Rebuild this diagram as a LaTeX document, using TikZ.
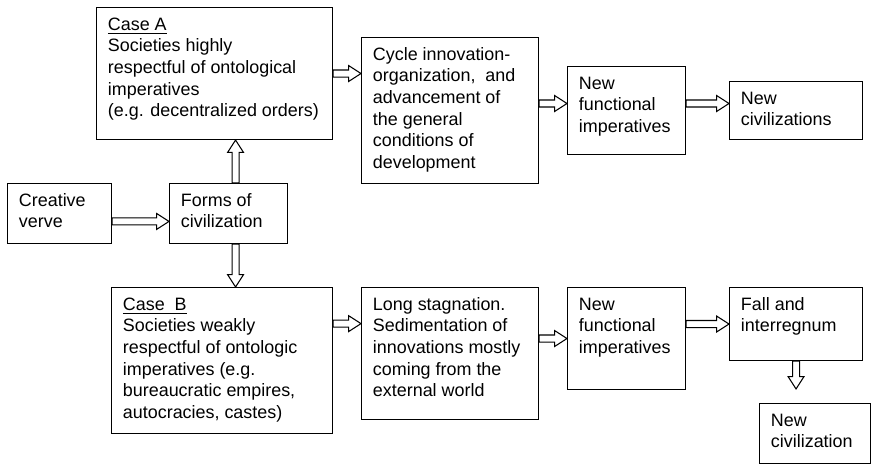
\documentclass[tikz,border=0pt]{standalone}
\usepackage{fontspec}
\setmainfont{Liberation Sans}
\usepackage{tikz}
\usetikzlibrary{calc}

\newlength\pxu
\setlength\pxu{0.02cm}
\newcommand\cell[3]{\parbox[t][\dimexpr#2\pxu-8.8pt\relax][t]{\dimexpr#1\pxu-13pt\relax}{\begin{tabular}[t]{@{}l@{}}#3\end{tabular}}}

\tikzset{
  box/.style={draw, anchor=north west, inner xsep=6.5pt, inner ysep=4.4pt},
  hollow/.style={fill=white, to path={
      ($(\tikztostart)!2pt!90:(\tikztotarget)$)
      -- ($(\tikztotarget)!7pt!(\tikztostart)!2pt!-90:(\tikztostart)$)
      -- ($(\tikztotarget)!7pt!(\tikztostart)!4.5pt!-90:(\tikztostart)$)
      -- (\tikztotarget)
      -- ($(\tikztotarget)!7pt!(\tikztostart)!4.5pt!90:(\tikztostart)$)
      -- ($(\tikztotarget)!7pt!(\tikztostart)!2pt!90:(\tikztostart)$)
      -- ($(\tikztostart)!2pt!-90:(\tikztotarget)$)
      -- cycle}}
}

\begin{document}
\begin{tikzpicture}[x=0.02cm, y=-0.02cm, line width=0.6pt, font=\fontsize{10.2}{12.3}\selectfont]
            \useasboundingbox (0,0) rectangle (871,465);

            \node[box] (creative) at (7,183) {\cell{104}{60}{Creative\\verve}};
            \node[box] (forms) at (169,183) {\cell{118}{60}{Forms of\\civilization}};
            \node[box] (caseA) at (96,7) {\cell{236}{132}{\underline{Case A}\\Societies highly\\respectful of ontological\\imperatives\\(e.g. decentralized orders)}};
            \node[box] (caseB) at (111,287) {\cell{221}{146}{\underline{Case\ \ B}\\Societies weakly\\respectful of ontologic\\imperatives (e.g.\\bureaucratic empires,\\autocracies, castes)}};
            \node[box] (cycle) at (361,37) {\cell{177}{146}{Cycle innovation-\\organization,\ \ and\\advancement of\\the general\\conditions of\\development}};
            \node[box] (stagn) at (361,287) {\cell{177}{132}{Long stagnation.\\Sedimentation of\\innovations mostly\\coming from the\\external world}};
            \node[box] (impA) at (567,66) {\cell{118}{88}{New\\functional\\imperatives}};
            \node[box] (impB) at (567,287) {\cell{118}{102}{New\\functional\\imperatives}};
            \node[box] (newcivs) at (729,81) {\cell{133}{58}{New\\civilizations}};
            \node[box] (fall) at (729,287) {\cell{133}{73}{Fall and\\interregnum}};
            \node[box] (newciv) at (759,403) {\cell{111}{60}{New\\civilization}};

            \draw[hollow] ([yshift=-4.5pt]creative.east) to ([yshift=-4.5pt]forms.west);
            \draw[hollow] ([xshift=4pt]forms.north) to ([xshift=4pt]forms.north |- caseA.south);
            \draw[hollow] ([xshift=4pt]forms.south) to ([xshift=4pt]forms.south |- caseB.north);

            \draw[hollow] (caseA.east) to (caseA.east -| cycle.west);
            \draw[hollow] ([yshift=4pt]cycle.east) to ([yshift=4pt]impA.west);
            \draw[hollow] ([yshift=4pt]impA.east) to ([yshift=4pt]newcivs.west);

            \draw[hollow] ([yshift=21pt]caseB.east) to ([yshift=21pt]caseB.east -| stagn.west);
            \draw[hollow] (impB.west -| stagn.east) to (impB.west);
            \draw[hollow] (fall.west -| impB.east) to (fall.west);
            \draw[hollow] (fall.south) to ([yshift=8pt]fall.south |- newciv.north);
        \end{tikzpicture}
\end{document}
